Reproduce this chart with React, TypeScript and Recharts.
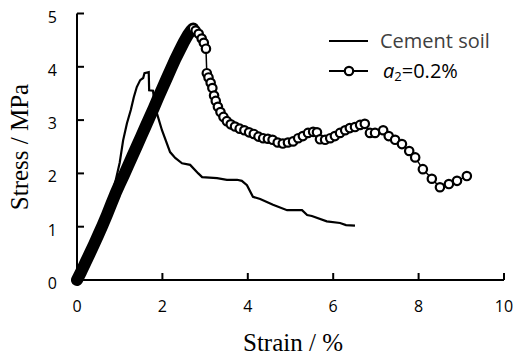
import React from 'react';
import { LineChart, Line, XAxis, YAxis, Legend } from 'recharts';

// Cement soil curve
const cementStrain = [0, 0.3, 0.6, 0.8, 0.9, 1.0, 1.08, 1.17, 1.26, 1.33, 1.4, 1.48, 1.55, 1.58, 1.68, 1.69, 1.78, 1.82, 1.87, 1.99, 2.18, 2.3, 2.46, 2.65, 2.84, 2.93, 3.28, 3.51, 3.75, 3.86, 3.98, 4.12, 4.29, 4.59, 4.92, 5.27, 5.39, 5.5, 5.85, 6.16, 6.3, 6.51];
const cementStress = [0, 0.5, 1.1, 1.55, 1.85, 2.2, 2.62, 2.94, 3.19, 3.43, 3.62, 3.75, 3.79, 3.88, 3.9, 3.56, 3.55, 3.3, 3.13, 2.81, 2.4, 2.29, 2.19, 2.16, 2.0, 1.93, 1.91, 1.88, 1.88, 1.86, 1.78, 1.56, 1.52, 1.41, 1.31, 1.31, 1.22, 1.2, 1.1, 1.07, 1.03, 1.02];

// a2 = 0.2% : pre-peak (dense markers) and post-peak (individual markers)
const a2PreStrain = [0, 0.1, 0.2, 0.3, 0.4, 0.5, 0.6, 0.7, 0.8, 0.9, 1.0, 1.1, 1.2, 1.3, 1.4, 1.5, 1.6, 1.7, 1.8, 1.9, 2.0, 2.1, 2.2, 2.3, 2.4, 2.5, 2.6, 2.68, 2.72];
const a2PreStress = [0, 0.16, 0.33, 0.5, 0.67, 0.85, 1.03, 1.22, 1.42, 1.62, 1.8, 1.97, 2.15, 2.33, 2.51, 2.69, 2.87, 3.05, 3.23, 3.42, 3.6, 3.78, 3.96, 4.14, 4.3, 4.46, 4.6, 4.69, 4.72];
const a2PostStrain = [2.72, 2.78, 2.85, 2.92, 2.97, 3.02, 3.04, 3.08, 3.13, 3.17, 3.21, 3.25, 3.3, 3.36, 3.43, 3.51, 3.6, 3.7, 3.81, 3.92, 4.03, 4.14, 4.25, 4.36, 4.47, 4.58, 4.7, 4.82, 4.94, 5.06, 5.18, 5.29, 5.41, 5.53, 5.62, 5.69, 5.81, 5.93, 6.04, 6.16, 6.28, 6.39, 6.51, 6.63, 6.74, 6.86, 6.98, 7.17, 7.3, 7.45, 7.61, 7.78, 7.92, 8.1, 8.31, 8.5, 8.71, 8.9, 9.13];
const a2PostStress = [4.72, 4.68, 4.62, 4.53, 4.45, 4.34, 3.88, 3.8, 3.7, 3.6, 3.46, 3.36, 3.25, 3.15, 3.06, 2.98, 2.92, 2.88, 2.84, 2.81, 2.77, 2.74, 2.69, 2.66, 2.65, 2.63, 2.58, 2.56, 2.58, 2.6, 2.66, 2.7, 2.76, 2.78, 2.77, 2.64, 2.63, 2.66, 2.7, 2.76, 2.81, 2.85, 2.87, 2.91, 2.93, 2.76, 2.76, 2.81, 2.7, 2.63, 2.55, 2.42, 2.3, 2.08, 1.9, 1.74, 1.8, 1.86, 1.95];

const xTicks = [0, 2, 4, 6, 8, 10];
const yTicks = [0, 1, 2, 3, 4, 5];

const toPts = (xs: number[], ys: number[]) => xs.map((x, i) => ({ x, y: ys[i] }));
const cementData = toPts(cementStrain, cementStress);
const a2Pre = toPts(a2PreStrain, a2PreStress);
const a2Post = toPts(a2PostStrain, a2PostStress);

const tickFont = "'Open Sans', sans-serif";
const titleFont = "'Liberation Serif', 'Times New Roman', serif";

const XTick = (props: any) => {
  const { x, y, payload } = props;
  return (
    <g>
      <line x1={x} y1={y} x2={x} y2={y - 7} stroke="#000" strokeWidth={2} />
      <text x={x} y={y + 32} textAnchor="middle" fontFamily={tickFont} fontSize={16} fill="#000">{payload.value}</text>
    </g>
  );
};

const YTick = (props: any) => {
  const { x, y, payload } = props;
  return (
    <g>
      <line x1={x} y1={y} x2={x + 7} y2={y} stroke="#000" strokeWidth={2} />
      <text x={x - 20} y={y + 9} textAnchor="end" fontFamily={tickFont} fontSize={16} fill="#000">{payload.value}</text>
    </g>
  );
};

const LegendBox = () => (
  <svg width={180} height={60} style={{ display: 'block', overflow: 'visible' }}>
    <line x1={6} y1={13} x2={45} y2={13} stroke="#000" strokeWidth={2.2} />
    <text x={57} y={20} fontFamily={tickFont} fontSize={20} fill="#404040">Cement soil</text>
    <line x1={6} y1={43} x2={45} y2={43} stroke="#000" strokeWidth={2.2} />
    <circle cx={26} cy={43} r={4.2} fill="#fff" stroke="#000" strokeWidth={2.2} />
    <text x={60} y={50} fontFamily={tickFont} fontSize={20} fill="#000">
      <tspan fontStyle="italic">a</tspan>
      <tspan fontSize={13} dy={3}>2</tspan>
      <tspan dy={-3}>=0.2%</tspan>
    </text>
  </svg>
);

export default function App() {
  return (
    <div style={{ width: 516, height: 356, overflow: 'hidden', background: '#fff' }}>
      <style>{'html, body { margin: 0; padding: 0; overflow: hidden; }'}</style>
      <LineChart width={516} height={356} margin={{ top: 13.5, right: 12, left: 0, bottom: 0 }}>
        <XAxis
          type="number"
          dataKey="x"
          domain={[0, 10]}
          ticks={xTicks}
          interval={0}
          height={76}
          tickSize={0}
          tickMargin={0}
          tickLine={false}
          axisLine={{ stroke: '#000', strokeWidth: 2 }}
          tick={XTick}
          label={{
            content: () => (
              <text x={293} y={351} textAnchor="middle" fontFamily={titleFont} fontSize={25} fill="#000">Strain / %</text>
            ),
          }}
        />
        <YAxis
          type="number"
          dataKey="y"
          domain={[0, 5]}
          ticks={yTicks}
          interval={0}
          width={77}
          tickSize={0}
          tickMargin={0}
          tickLine={false}
          axisLine={{ stroke: '#000', strokeWidth: 2 }}
          tick={YTick}
          label={{
            content: () => (
              <text x={28} y={147} transform="rotate(-90 28 147)" textAnchor="middle" fontFamily={titleFont} fontSize={25} fill="#000">Stress / MPa</text>
            ),
          }}
        />
        <Legend
          layout="vertical"
          align="center"
          verticalAlign="middle"
          wrapperStyle={{ top: 28, left: 323, width: 180, height: 60 }}
          content={() => <LegendBox />}
        />
        <Line data={cementData} dataKey="y" type="linear" stroke="#000" strokeWidth={2.2} dot={false} isAnimationActive={false} legendType="none" />
        <Line data={a2Pre} dataKey="y" type="linear" stroke="#000" strokeWidth={12} strokeLinecap="round" strokeLinejoin="round" dot={false} isAnimationActive={false} legendType="none" />
        <Line data={a2Post} dataKey="y" type="linear" stroke="#000" strokeWidth={1.5} dot={{ r: 4.2, fill: '#fff', stroke: '#000', strokeWidth: 2.2 }} isAnimationActive={false} legendType="none" />
      </LineChart>
    </div>
  );
}
